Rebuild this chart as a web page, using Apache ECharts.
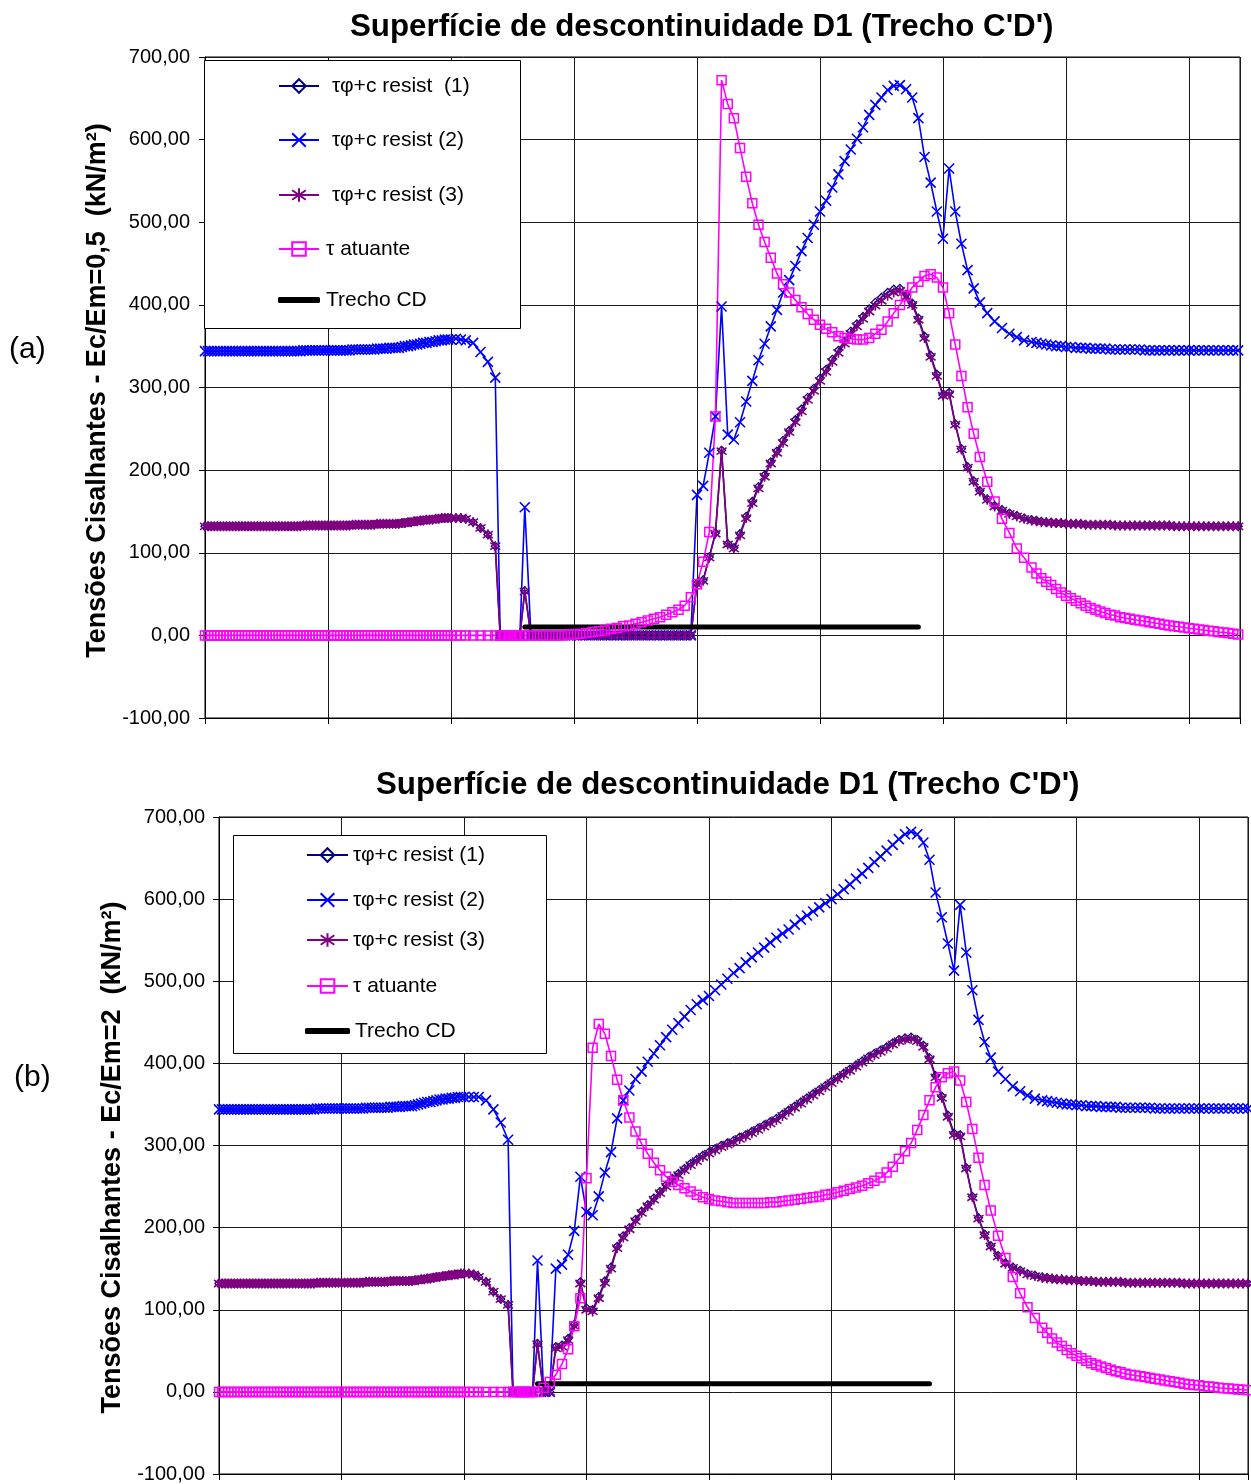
<!DOCTYPE html>
<html><head><meta charset="utf-8">
<script src="https://cdn.jsdelivr.net/npm/echarts/dist/echarts.min.js"></script>
<style>html,body{margin:0;padding:0;background:#fff}#c{width:1251px;height:1484px}</style>
</head><body><div id="c"></div>
<script>
// ---------- DATA ----------
const xNodes = [
0,0.25,0.5,0.75,1,1.25,1.5,1.75,2,2.25,2.5,2.75,3,3.25,3.5,3.75,4,4.25,4.5,4.75,
5,5.25,5.5,5.75,6,6.25,6.5,6.75,7,7.25,7.5,7.75,8,8.25,8.5,8.75,9,9.25,9.5,9.75,
10,10.25,10.5,10.75,11,11.25,11.5,11.75,12,12.25,12.5,12.75,13,13.25,13.5,13.75,14,14.25,14.5,14.75,
15,15.25,15.5,15.75,16,16.25,16.5,16.75,17,17.25,17.5,17.75,18,18.25,18.5,18.75,19,19.25,19.5,19.75,20,
20.4,20.8,21.2,21.8,22.4,23,23.6,
24,24.2,24.4,24.6,24.8,25,25.2,25.4,25.6,26,
26.5,27,27.5,28,28.5,29,29.5,30,30.5,31,31.5,32,32.5,33,33.5,34,34.5,35,35.5,36,36.5,37,37.5,38,38.5,39,39.5,
40,40.5,41,41.5,42,42.5,43,43.5,44,44.5,45,45.5,46,46.5,47,47.5,48,48.5,49,49.5,
50,50.5,51,51.5,52,52.5,53,53.5,54,54.5,55,55.5,56,56.5,57,57.5,58,58.5,59,59.5,60,60.5,61,61.5,62,62.5,63,
63.6,64.2,64.8,65.4,66,66.6,67.2,
67.6,68,68.4,68.8,69.2,69.6,70,70.4,70.8,71.2,71.6,72,72.4,72.8,73.2,73.6,74,74.4,74.8,75.2,75.6,
76,76.4,76.8,77.2,77.6,78,78.4,78.8,79.2,79.6,80,80.4,80.8,81.2,81.6,82,82.4,82.8,83.2,83.6,84];

// (a) Ec/Em = 0,5
const topResist1 = [
132,132,132,132,132,132,132,132,132,132,132,132,132,132,132,132,
132,132,132,132,132,132,132,132,132,132,132,132,132,132,132,132,
133,133,133,133,133,133,133,133,133,133,133,133,133,133,133,133,
134,134,134,134,134,134,134,134,135,135,135,135,135,135,135,135,
136,136,137,137,138,138,139,139,140,140,140,141,141,142,142,142,142,
142,142,141,137,130,122,108,
0,0,0,0,0,0,0,0,0,54,
0,0,0,0,0,0,0,0,0,0,0,0,0,0,0,0,0,0,0,0,0,0,0,0,0,0,0,
63,67,95,124,224,111,106,123,144,162,180,194,210,223,236,248,261,274,288,299,
311,322,334,345,356,368,377,386,395,403,409,415,419,420,413,402,384,362,339,316,
291,294,256,226,204,187,175,
165,157,152,148,145,142,140,
139,138,137,137,136,136,135,135,135,135,134,134,134,134,134,134,133,133,133,133,133,
133,133,133,133,133,133,133,132,132,132,132,132,132,132,132,132,132,132,132,132,132];
const topResist2 = [
344,344,344,344,344,344,344,344,344,344,344,344,344,344,344,344,
344,344,344,344,344,344,344,344,344,344,344,344,344,344,344,344,
345,345,345,345,345,345,345,345,345,345,345,345,345,345,345,345,
346,346,346,346,346,346,346,346,347,347,347,347,348,348,348,348,
349,350,350,351,352,352,353,354,354,355,355,356,357,357,358,358,358,
359,358,357,354,343,331,312,
0,0,0,0,0,0,0,0,0,155,
0,0,0,0,0,0,0,0,0,0,0,0,0,0,0,0,0,0,0,0,0,0,0,0,0,0,0,
170,181,221,265,398,243,237,258,283,308,333,353,374,394,415,430,447,465,481,497,
513,526,542,558,574,588,601,615,630,642,651,660,665,666,661,651,626,579,548,513,
480,565,513,474,442,420,403,
390,380,372,365,361,357,355,
354,353,352,351,350,350,349,349,348,348,348,347,347,347,347,346,346,346,346,346,346,
346,345,345,345,345,345,345,345,345,345,345,345,345,345,345,345,345,345,345,345,345];
const topResist3 = [
132,132,132,132,132,132,132,132,132,132,132,132,132,132,132,132,
132,132,132,132,132,132,132,132,132,132,132,132,132,132,132,132,
133,133,133,133,133,133,133,133,133,133,133,133,133,133,133,133,
134,134,134,134,134,134,134,134,135,135,135,135,135,135,135,135,
136,136,137,137,138,138,139,139,140,140,140,141,141,142,142,142,142,
142,142,141,137,130,122,108,
0,0,0,0,0,0,0,0,0,53,
0,0,0,0,0,0,0,0,0,0,0,0,0,0,0,0,0,0,0,0,0,0,0,0,0,0,0,
62,66,94,123,223,110,105,121,142,160,178,192,208,221,233,246,258,271,285,296,
308,319,331,342,353,365,374,383,392,399,405,411,415,417,410,400,382,360,337,314,
290,292,255,225,203,186,174,
164,156,151,147,144,141,139,
138,137,137,136,136,136,135,135,135,135,134,134,134,134,134,134,133,133,133,133,133,
133,133,133,133,133,133,133,132,132,132,132,132,132,132,132,132,132,132,132,132,132];
const topActing = [
0,0,0,0,0,0,0,0,0,0,0,0,0,0,0,0,
0,0,0,0,0,0,0,0,0,0,0,0,0,0,0,0,
0,0,0,0,0,0,0,0,0,0,0,0,0,0,0,0,
0,0,0,0,0,0,0,0,0,0,0,0,0,0,0,0,
0,0,0,0,0,0,0,0,0,0,0,0,0,0,0,0,0,
0,0,0,0,0,0,0,
0,0,0,0,0,0,0,0,0,0,
0,0,0,0,0,0,1,1,2,3,4,5,6,8,9,11,12,14,16,18,20,22,25,28,31,36,46,
62,89,125,265,672,643,626,590,555,523,497,476,457,438,425,415,406,397,389,382,
376,371,367,362,360,359,358,358,360,365,370,380,390,400,411,421,428,435,437,433,
421,390,352,314,276,244,216,
186,162,141,124,105,94,82,
75,69,65,61,56,52,48,45,42,39,36,33,31,29,27,25,24,22,21,20,19,
18,17,16,15,14,13,12,11,10.5,9.5,8.5,8,7,6.5,5.5,5,4,3.5,3,2,1];

// (b) Ec/Em = 2
const botResist1 = [
132,132,132,132,132,132,132,132,132,132,132,132,132,132,132,132,
132,132,132,132,132,132,132,132,132,132,132,132,132,132,132,132,
133,133,133,133,133,133,133,133,133,133,133,133,133,133,133,133,
134,134,134,134,134,134,134,134,135,135,135,135,135,135,135,135,
136,136,137,137,138,138,139,140,140,141,141,142,142,143,143,144,144,
144,143,140,134,122,113,106,
0,0,0,0,0,0,0,0,0,59,
0,0,55,57,65,82,134,102,100,116,135,152,177,190,200,210,220,228,236,244,252,260,266,272,278,283,288,
292,296,300,303,306,310,313,317,321,325,329,333,338,343,348,353,358,363,368,373,
378,383,388,393,398,403,408,412,416,420,425,429,431,432,429,422,407,385,360,337,
315,313,273,238,212,192,178,
166,157,152,148,144,142,140,
139,138,137,137,136,136,136,135,135,135,134,134,134,134,134,134,133,133,133,133,133,
133,133,133,133,133,133,133,132,132,132,132,132,132,132,132,132,132,132,132,132,132];
const botResist2 = [
344,344,344,344,344,344,344,344,344,344,344,344,344,344,344,344,
344,344,344,344,344,344,344,344,344,344,344,344,344,344,344,344,
345,345,345,345,345,345,345,345,345,345,345,345,345,345,345,345,
346,346,346,346,346,346,346,346,347,347,347,347,348,348,348,348,
349,350,351,352,353,353,354,355,356,356,357,357,358,358,359,359,359,
359,359,359,355,344,328,307,
0,0,0,0,0,0,0,0,0,160,
0,0,150,155,167,196,262,219,215,238,267,292,333,355,367,381,390,402,412,422,432,441,449,457,465,472,477,
482,489,496,503,510,516,523,529,535,541,547,553,558,563,569,575,580,585,590,595,
600,606,612,618,625,631,638,645,652,659,666,673,679,682,679,669,648,608,578,546,
513,593,535,489,453,426,407,
390,381,372,366,361,357,355,
354,353,352,351,350,350,349,349,348,348,348,347,347,347,347,346,346,346,346,346,346,
346,345,345,345,345,345,345,345,345,345,345,345,345,345,345,345,345,345,345,345,345];
const botResist3 = [
132,132,132,132,132,132,132,132,132,132,132,132,132,132,132,132,
132,132,132,132,132,132,132,132,132,132,132,132,132,132,132,132,
133,133,133,133,133,133,133,133,133,133,133,133,133,133,133,133,
134,134,134,134,134,134,134,134,135,135,135,135,135,135,135,135,
136,136,137,137,138,138,139,140,140,141,141,142,142,143,143,144,144,
144,143,140,134,122,113,106,
0,0,0,0,0,0,0,0,0,58,
0,0,53,55,63,80,132,100,98,114,133,150,175,188,198,208,218,226,234,242,250,258,264,270,276,281,286,
290,294,298,301,304,308,311,315,319,323,327,331,336,341,346,351,356,361,366,371,
376,381,386,391,396,401,406,410,414,418,423,427,429,430,427,420,405,383,358,335,
313,311,272,237,211,191,177,
165,156,151,147,143,141,139,
138,138,137,137,136,136,136,135,135,135,134,134,134,134,134,134,133,133,133,133,133,
133,133,133,133,133,133,133,132,132,132,132,132,132,132,132,132,132,132,132,132,132];
const botActing = [
0,0,0,0,0,0,0,0,0,0,0,0,0,0,0,0,
0,0,0,0,0,0,0,0,0,0,0,0,0,0,0,0,
0,0,0,0,0,0,0,0,0,0,0,0,0,0,0,0,
0,0,0,0,0,0,0,0,0,0,0,0,0,0,0,0,
0,0,0,0,0,0,0,0,0,0,0,0,0,0,0,0,0,
0,0,0,0,0,0,0,
0,0,0,0,0,0,0,0,0,0,
5,12,21,34,52,80,114,260,419,448,436,409,380,355,334,317,302,290,279,270,262,256,252,248,244,240,237,
235,233,232,231,230,230,230,230,230,230,231,231,232,233,234,235,236,237,238,240,
241,243,245,247,249,251,254,257,261,267,274,284,293,303,319,337,355,371,383,388,
390,379,353,320,285,252,221,
190,163,140,120,103,90,78,
72,65,60,56,51,47,44,41,38,35,33,31,29,27,25,24,22,21,20,19,18,
17,16,15,14,13,12,11,10,9,8.5,8,7,6.5,6,5,4.5,4,3.5,3,2.5,2];

// Trecho CD segment (start, end, level)
const trechoX = [26, 58];
const trechoY = [10, 10];

const yTicks = [-100, 0, 100, 200, 300, 400, 500, 600, 700];
const titleText = "Superfície de descontinuidade D1 (Trecho C'D')";
const yNameTop = "Tensões Cisalhantes - Ec/Em=0,5  (kN/m²)";
const yNameBot = "Tensões Cisalhantes - Ec/Em=2  (kN/m²)";
const namesTop = ["τφ+c resist  (1)", "τφ+c resist (2)", "τφ+c resist (3)", "τ atuante", "Trecho CD"];
const namesBot = ["τφ+c resist (1)", "τφ+c resist (2)", "τφ+c resist (3)", "τ atuante", "Trecho CD"];

// ---------- CHART ----------
const FONT = '"Liberation Sans", Arial, Helvetica, sans-serif';
const X_SYM = 'path://M0,0L10,10M10,0L0,10';
const STAR_SYM = 'path://M5,0L5,10M0,1.5L10,8.5M10,1.5L0,8.5';
const C1 = '#000080', C2 = '#0000FF', C3 = '#800080', C4 = '#FF00FF';

function pairs(vals){ return xNodes.map((x,i)=>[x, vals[i]]); }
function ser(name, gi, vals, sym, size, color, bw){
  return {name, type:'line', xAxisIndex:gi, yAxisIndex:gi, data:pairs(vals),
    symbol:sym, symbolSize:size, showAllSymbol:true, color,
    lineStyle:{color, width:1.6},
    itemStyle:{color:'none', borderColor:color, borderWidth:bw},
    emphasis:{disabled:true}, animation:false};
}
function trecho(name, gi){
  return {name, type:'line', xAxisIndex:gi, yAxisIndex:gi,
    data: trechoX.map((x,i)=>[x, trechoY[i]]), symbol:'none', color:'#000',
    lineStyle:{color:'#000', width:5, cap:'round'}, emphasis:{disabled:true}, animation:false};
}
function yAx(gi, name, margin, namePad){
  return {type:'value', gridIndex:gi, min:yTicks[0], max:yTicks[yTicks.length-1], interval:100,
    axisLine:{show:true, lineStyle:{color:'#000'}},
    axisTick:{show:true, length:6, lineStyle:{color:'#000'}},
    axisLabel:{color:'#000', fontSize:20, fontFamily:FONT, margin,
      formatter:v=>v.toFixed(2).replace('.', ',')},
    splitLine:{show:true, lineStyle:{color:'#1a1a1a', width:1}},
    name, nameLocation:'middle', nameGap:91,
    nameTextStyle:{fontSize:27, fontWeight:'bold', fontFamily:FONT, color:'#000', padding:namePad}};
}
function xAx(gi, max){
  return {type:'value', gridIndex:gi, min:0, max, interval:10,
    axisLine:{show:true, onZero:false, lineStyle:{color:'#000'}},
    axisTick:{show:true, length:6, lineStyle:{color:'#000'}},
    axisLabel:{show:false},
    splitLine:{show:true, lineStyle:{color:'#1a1a1a', width:1}}};
}
function lg(name, left, cy, iw, padL, extra){
  return Object.assign({data:[name], left, top:cy-12, padding:0, itemWidth:iw, itemHeight:17,
    selectedMode:false, itemGap:0,
    textStyle:{fontSize:21, fontFamily:FONT, color:'#000', lineHeight:24, padding:[0,0,0,padL]}}, extra || {});
}
const thick = {icon:'roundRect', itemHeight:6};

const chart = echarts.init(document.getElementById('c'), null, {renderer:'canvas'});
chart.setOption({
  backgroundColor:'#fff',
  animation:false,
  textStyle:{fontFamily:FONT},
  title:[
    {text:titleText, left:350, top:12, padding:0, textStyle:{fontSize:31.3, fontWeight:'bold', fontFamily:FONT, color:'#000'}},
    {text:titleText, left:376, top:770, padding:0, textStyle:{fontSize:31.3, fontWeight:'bold', fontFamily:FONT, color:'#000'}},
    {text:'(a)', left:9, top:335, padding:0, textStyle:{fontSize:30, fontWeight:'normal', fontFamily:FONT, color:'#000'}},
    {text:'(b)', left:14, top:1063, padding:0, textStyle:{fontSize:30, fontWeight:'normal', fontFamily:FONT, color:'#000'}}
  ],
  grid:[
    {left:205, top:57, width:1035, height:661, show:true, borderColor:'#000', borderWidth:1, backgroundColor:'#fff'},
    {left:219, top:817, width:1029, height:657, show:true, borderColor:'#000', borderWidth:1, backgroundColor:'#fff'}
  ],
  xAxis:[xAx(0, 84.15), xAx(1, 84)],
  yAxis:[yAx(0, yNameTop, 15, [0,6,0,0]), yAx(1, yNameBot, 14, [0,24,0,0])],
  graphic:[
    {type:'rect', left:204, top:60, z:3, shape:{width:316, height:268}, style:{fill:'#fff', stroke:'#000', lineWidth:1}},
    {type:'rect', left:233, top:835, z:3, shape:{width:313, height:218}, style:{fill:'#fff', stroke:'#000', lineWidth:1}}
  ],
  legend:[
    lg(namesTop[0], 278, 86, 40, 8),
    lg(namesTop[1], 278, 140, 40, 8),
    lg(namesTop[2], 278, 195, 40, 8),
    lg(namesTop[3], 278, 249, 40, 2),
    lg(namesTop[4], 278, 300, 42, 1, thick),
    lg(namesBot[0], 306, 855, 41, 0),
    lg(namesBot[1], 306, 900, 41, 0),
    lg(namesBot[2], 306, 940, 41, 0),
    lg(namesBot[3], 306, 986, 41, 0),
    lg(namesBot[4], 305, 1031, 45, 0, thick)
  ],
  series:[
    ser(namesTop[0], 0, topResist1, 'diamond', 8, C1, 1.3),
    ser(namesTop[1], 0, topResist2, X_SYM, 10, C2, 1.6),
    ser(namesTop[2], 0, topResist3, STAR_SYM, 10, C3, 1.6),
    ser(namesTop[3], 0, topActing, 'rect', 9, C4, 1.5),
    trecho(namesTop[4], 0),
    ser(namesBot[0], 1, botResist1, 'diamond', 8, C1, 1.3),
    ser(namesBot[1], 1, botResist2, X_SYM, 10, C2, 1.6),
    ser(namesBot[2], 1, botResist3, STAR_SYM, 10, C3, 1.6),
    ser(namesBot[3], 1, botActing, 'rect', 9, C4, 1.5),
    trecho(namesBot[4], 1)
  ]
});
</script></body></html>
